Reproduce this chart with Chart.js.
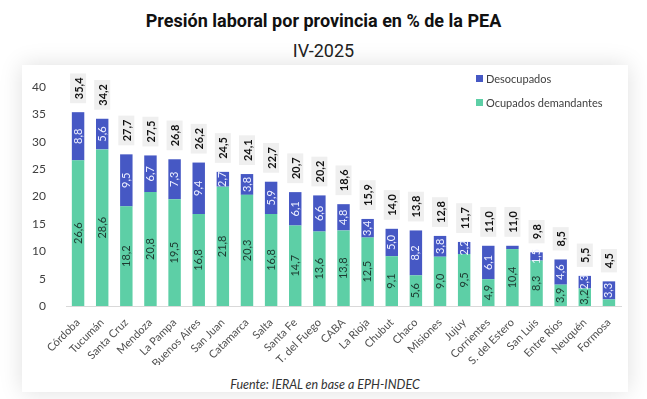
<!DOCTYPE html>
<html>
<head>
<meta charset="utf-8">
<script src="https://cdn.jsdelivr.net/npm/chart.js@4"></script>
<style>
  body { margin: 0; background: #fff; font-family: Roboto, sans-serif; }
  #wrap { position: relative; width: 647px; height: 399px; overflow: hidden; }
  #title { position: absolute; top: 10px; left: 0; width: 647px; text-align: center;
           font-weight: bold; font-size: 18px; color: #111; }
  #sub { position: absolute; top: 40px; left: 0; width: 647px; text-align: center;
         font-size: 18px; color: #222; }
  #card { position: absolute; left: 22px; top: 65px; width: 606px; height: 327px;
          background: #fff; box-shadow: 0 0 22px rgba(0,0,0,0.13); }
  #foot { position: absolute; top: 312px; left: 0; width: 606px; text-align: center;
          font-family: Lato, sans-serif; font-style: italic; font-size: 12.5px; color: #333; }
</style>
</head>
<body>
<div id="wrap">
  <div id="title">Presión laboral por provincia en % de la PEA</div>
  <div id="sub">IV-2025</div>
  <div id="card">
    <canvas id="chart" width="606" height="300"></canvas>
    <div id="foot">Fuente: IERAL en base a EPH-INDEC</div>
  </div>
</div>
<script>
const provinces = ["Córdoba", "Tucumán", "Santa Cruz", "Mendoza", "La Pampa", "Buenos Aires",
  "San Juan", "Catamarca", "Salta", "Santa Fe", "T. del Fuego", "CABA", "La Rioja", "Chubut",
  "Chaco", "Misiones", "Jujuy", "Corrientes", "S. del Estero", "San Luis", "Entre Ríos",
  "Neuquén", "Formosa"];
const ocupados = [26.6, 28.6, 18.2, 20.8, 19.5, 16.8, 21.8, 20.3, 16.8, 14.7, 13.6, 13.8, 12.5,
  9.1, 5.6, 9.0, 9.5, 4.9, 10.4, 8.3, 3.9, 3.2, 1.2];
const desocupados = [8.8, 5.6, 9.5, 6.7, 7.3, 9.4, 2.7, 3.8, 5.9, 6.1, 6.6, 4.8, 3.4,
  5.0, 8.2, 3.8, 2.2, 6.1, 0.6, 1.5, 4.6, 2.3, 3.3];
const totals = [35.4, 34.2, 27.7, 27.5, 26.8, 26.2, 24.5, 24.1, 22.7, 20.7, 20.2, 18.6, 15.9,
  14.0, 13.8, 12.8, 11.7, 11.0, 11.0, 9.8, 8.5, 5.5, 4.5];
const yTicks = [0, 5, 10, 15, 20, 25, 30, 35, 40];

const GREEN = "#5dcfa6";
const BLUE = "#4658c4";
const fmt = v => v.toFixed(1).replace(".", ",");

const labelPlugin = {
  id: "labels",
  afterDatasetsDraw(chart) {
    const ctx = chart.ctx;
    ctx.save();
    ctx.textAlign = "center";
    ctx.textBaseline = "middle";
    chart.data.datasets.forEach((ds, i) => {
      const meta = chart.getDatasetMeta(i);
      meta.data.forEach((bar, j) => {
        const v = ds.data[j];
        if (v < 1.4) return;
        const p = bar.getProps(["x", "y", "base"], true);
        ctx.save();
        ctx.translate(p.x, (p.y + p.base) / 2);
        ctx.rotate(-Math.PI / 2);
        ctx.font = "11px Lato, sans-serif";
        ctx.fillStyle = i === 0 ? "#1d3a30" : "#eef0ff";
        ctx.fillText(fmt(v), 0, 0);
        ctx.restore();
      });
    });
    const top = chart.getDatasetMeta(1);
    top.data.forEach((bar, j) => {
      const t = fmt(totals[j]);
      const p = bar.getProps(["x", "y"], true);
      ctx.save();
      ctx.font = "bold 11px Lato, sans-serif";
      const w = ctx.measureText(t).width + 8;
      ctx.translate(p.x, p.y - 9 - w / 2);
      ctx.rotate(-Math.PI / 2);
      ctx.fillStyle = "#efefef";
      ctx.fillRect(-w / 2, -8, w, 16);
      ctx.fillStyle = "#111";
      ctx.fillText(t, 0, 1);
      ctx.restore();
    });
    // legend
    ctx.font = "11px Lato, sans-serif";
    ctx.textAlign = "left";
    [[1, 14], [0, 38]].forEach(([i, y]) => {
      const ds = chart.data.datasets[i];
      ctx.fillStyle = ds.backgroundColor;
      ctx.fillRect(454, y - 4, 7, 7);
      ctx.fillStyle = "#404040";
      ctx.fillText(ds.label, 464, y);
    });
    ctx.restore();
  }
};

new Chart(document.getElementById("chart"), {
  type: "bar",
  data: {
    labels: provinces,
    datasets: [
      { label: "Ocupados demandantes", data: ocupados, backgroundColor: GREEN },
      { label: "Desocupados", data: desocupados, backgroundColor: BLUE }
    ]
  },
  options: {
    responsive: false,
    animation: false,
    layout: { padding: { top: 22, right: 7, left: 0, bottom: 0 } },
    datasets: { bar: { barPercentage: 0.6, categoryPercentage: 0.86 } },
    plugins: { legend: { display: false }, tooltip: { enabled: false } },
    scales: {
      x: {
        stacked: true,
        grid: { display: false },
        border: { display: true, color: "#d9d9d9" },
        afterFit: s => { s.height = 59; },
        ticks: {
          maxRotation: 45, minRotation: 45, padding: 2, autoSkip: false,
          color: "#505050", font: { family: "Lato, sans-serif", size: 11 }
        }
      },
      y: {
        stacked: true,
        min: 0, max: 40,
        grid: { display: false },
        border: { display: false },
        afterFit: s => { s.width = 44; },
        afterBuildTicks: s => { s.ticks = yTicks.map(v => ({ value: v })); },
        ticks: { padding: 12, color: "#404040", font: { family: "Lato, sans-serif", size: 12 } }
      }
    }
  },
  plugins: [labelPlugin]
});
</script>
</body>
</html>
